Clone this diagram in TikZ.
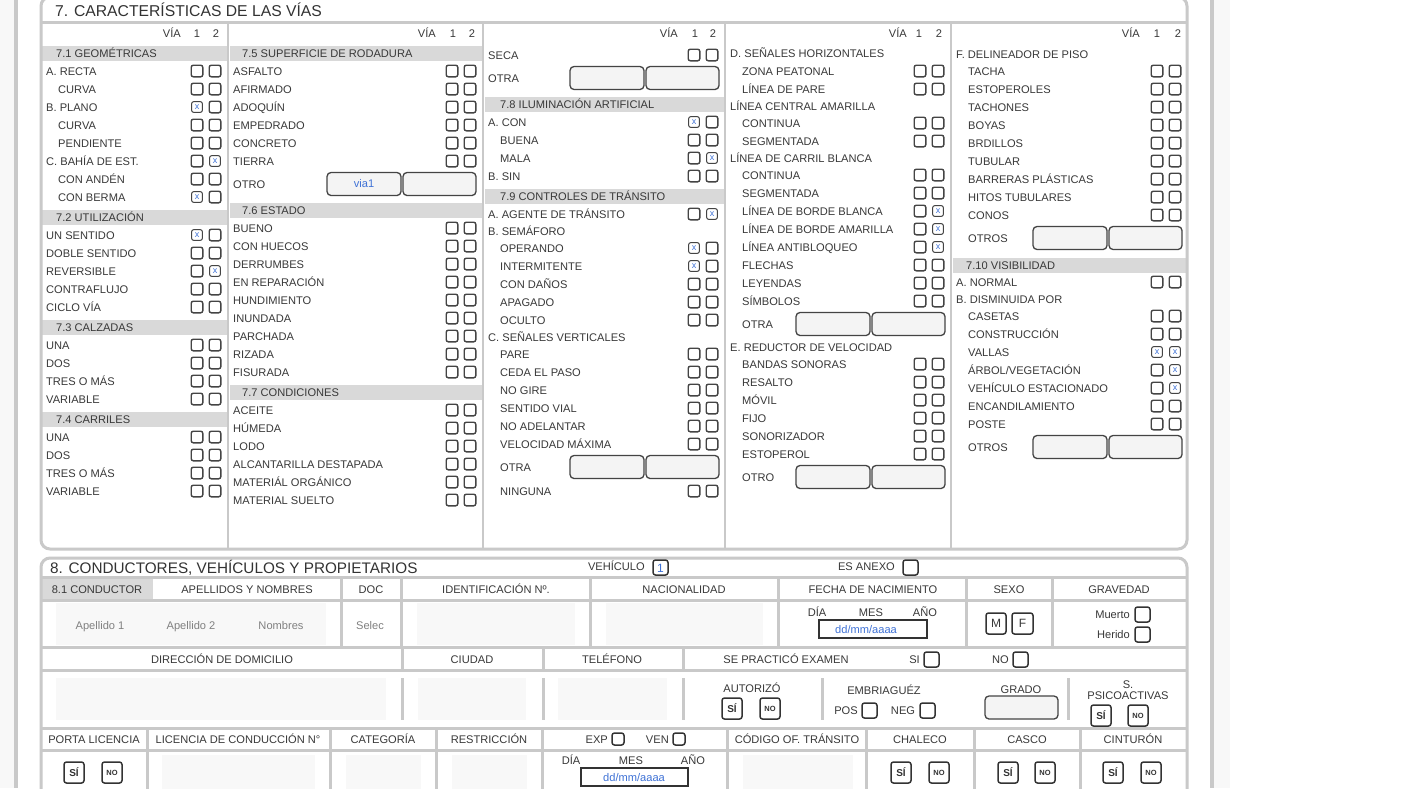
\documentclass[tikz,border=0pt]{standalone}
\usepackage{fontspec}
\setmainfont{Liberation Sans}
\definecolor{bord}{HTML}{C9C9C9}
\definecolor{bandc}{HTML}{D9D9D9}
\definecolor{txt}{HTML}{383838}
\definecolor{bx}{HTML}{444444}
\definecolor{bx2}{HTML}{333333}
\definecolor{blu}{HTML}{3F72D6}
\definecolor{fl}{HTML}{F4F4F4}
\definecolor{inp}{HTML}{F8F8F8}
\definecolor{side}{HTML}{F8F8F8}
\definecolor{gtx}{HTML}{808080}
\newcommand\fs{\fontsize{11.1}{13}\selectfont}
\tikzset{
  lbl/.style={anchor=base west,inner sep=0pt,text=txt,font=\fs},
  ctr/.style={anchor=base,inner sep=0pt,text=txt,font=\fs},
  rgt/.style={anchor=base east,inner sep=0pt,text=txt,font=\fs},
  cbx/.style={draw=bx,line width=1.4pt,rounded corners=2.2pt,minimum size=11.6pt,inner sep=0pt,fill=white},
  chk/.style={line width=1pt,minimum size=10.8pt,text=blu,font=\fontsize{9}{9}\selectfont},
  fldst/.style={draw=bx,line width=1.3pt,rounded corners=4pt,fill=fl},
  hl/.style={draw=bord,line width=3pt},
  btn/.style={draw=bx2,line width=1.5pt,rounded corners=2.5pt,fill=white},
  sq/.style={draw=bx2,line width=1.5pt,rounded corners=2.5pt,fill=white},
}
\newcommand\bx[3]{\ifnum#3=1 \node[cbx,chk] at (#1,#2) {x};\else \node[cbx] at (#1,#2) {};\fi}
\newcommand\rw[5]{\node[lbl] at (#1,#2+4) {#3};\bx{\cA}{#2}{#4}\bx{\cB}{#2}{#5}}
\newcommand\lb[3]{\node[lbl] at (#1,#2+4) {#3};}
\newcommand\band[5]{\fill[bandc] (#1,#3-7.5) rectangle (#2,#3+7.5);\node[lbl] at (#4,#3+4) {#5};}
\newcommand\fpair[2]{\draw[fldst] (#1,#2-11.5) rectangle (#1+74,#2+11.5);\draw[fldst] (#1+76,#2-11.5) rectangle (#1+149,#2+11.5);}
\newcommand\vhead[4]{\node[rgt] at (#1,37) {VÍA};\node[ctr] at (#2,37) {1};\node[ctr] at (#3,37) {2};}
\newcommand\btnsi[2]{\draw[btn] (#1,#2) rectangle (#1+20,#2+21);\node[font=\bfseries\fontsize{10}{10}\selectfont,text=bx2,inner sep=0pt] at (#1+10,#2+10.5) {SÍ};}
\newcommand\btnno[2]{\draw[btn] (#1,#2) rectangle (#1+20,#2+21);\node[font=\bfseries\fontsize{7.5}{8}\selectfont,text=bx2,inner sep=0pt] at (#1+10,#2+10.5) {NO};}
\newcommand\sqbox[2]{\draw[sq] (#1,#2) rectangle (#1+15,#2+15);}
\begin{document}
\begin{tikzpicture}[x=1pt,y=-1pt]
\useasboundingbox (0,0) rectangle (1423,788);
\fill[white] (0,0) rectangle (1423,788);
% side strips
\fill[side] (0,0) rectangle (14,788);
\fill[bord] (14,0) rectangle (17.5,788);
\fill[bord] (1210,0) rectangle (1213.5,788);
\fill[side] (1213.5,0) rectangle (1230,788);

% ================= SECTION 7 =================
\band{42}{227}{53.5}{56}{7.1 GEOMÉTRICAS}
\band{42}{227}{217.5}{56}{7.2 UTILIZACIÓN}
\band{42}{227}{327.5}{56}{7.3 CALZADAS}
\band{42}{227}{419.5}{56}{7.4 CARRILES}
\band{229.5}{482}{53.5}{242}{7.5 SUPERFICIE DE RODADURA}
\band{229.5}{482}{210.5}{242}{7.6 ESTADO}
\band{229.5}{482}{392.5}{242}{7.7 CONDICIONES}
\band{484.5}{724}{104.5}{500}{7.8 ILUMINACIÓN ARTIFICIAL}
\band{484.5}{724}{196.5}{500}{7.9 CONTROLES DE TRÁNSITO}
\band{952.5}{1186}{265}{966}{7.10 VISIBILIDAD}

\draw[draw=bord,line width=3pt,rounded corners=9pt] (41,-3) rectangle (1187,549);
\draw[hl] (41,22) -- (1187,22);
\foreach \xx in {228,483,725,951} \draw[draw=bord,line width=2.5pt] (\xx,22) -- (\xx,549);
\node[anchor=base west,inner sep=0pt,text=bx2,font=\fontsize{15.7}{17}\selectfont] (t7) at (55,16.5) {7. CARACTERÍSTICAS DE LAS VÍAS};

% column 1
\vhead{181}{197}{216}{}
\def\cA{197}\def\cB{215}
\rw{46}{71}{A. RECTA}{0}{0}
\rw{58}{89}{CURVA}{0}{0}
\rw{46}{107}{B. PLANO}{1}{0}
\rw{58}{125}{CURVA}{0}{0}
\rw{58}{143}{PENDIENTE}{0}{0}
\rw{46}{161}{C. BAHÍA DE EST.}{0}{1}
\rw{58}{179}{CON ANDÉN}{0}{0}
\rw{58}{197}{CON BERMA}{1}{0}
\rw{46}{235}{UN SENTIDO}{1}{0}
\rw{46}{253}{DOBLE SENTIDO}{0}{0}
\rw{46}{271}{REVERSIBLE}{0}{1}
\rw{46}{289}{CONTRAFLUJO}{0}{0}
\rw{46}{307}{CICLO VÍA}{0}{0}
\rw{46}{345}{UNA}{0}{0}
\rw{46}{363}{DOS}{0}{0}
\rw{46}{381}{TRES O MÁS}{0}{0}
\rw{46}{399}{VARIABLE}{0}{0}
\rw{46}{437}{UNA}{0}{0}
\rw{46}{455}{DOS}{0}{0}
\rw{46}{473}{TRES O MÁS}{0}{0}
\rw{46}{491}{VARIABLE}{0}{0}

% column 2
\vhead{436}{453}{472}{}
\def\cA{452}\def\cB{470}
\rw{233}{71}{ASFALTO}{0}{0}
\rw{233}{89}{AFIRMADO}{0}{0}
\rw{233}{107}{ADOQUÍN}{0}{0}
\rw{233}{125}{EMPEDRADO}{0}{0}
\rw{233}{143}{CONCRETO}{0}{0}
\rw{233}{161}{TIERRA}{0}{0}
\lb{233}{184}{OTRO}
\fpair{327}{184}
\node[inner sep=0pt,text=blu,font=\fs] (via) at (364,184) {via1};
\rw{233}{228}{BUENO}{0}{0}
\rw{233}{246}{CON HUECOS}{0}{0}
\rw{233}{264}{DERRUMBES}{0}{0}
\rw{233}{282}{EN REPARACIÓN}{0}{0}
\rw{233}{300}{HUNDIMIENTO}{0}{0}
\rw{233}{318}{INUNDADA}{0}{0}
\rw{233}{336}{PARCHADA}{0}{0}
\rw{233}{354}{RIZADA}{0}{0}
\rw{233}{372}{FISURADA}{0}{0}
\rw{233}{410}{ACEITE}{0}{0}
\rw{233}{428}{HÚMEDA}{0}{0}
\rw{233}{446}{LODO}{0}{0}
\rw{233}{464}{ALCANTARILLA DESTAPADA}{0}{0}
\rw{233}{482}{MATERIÁL ORGÁNICO}{0}{0}
\rw{233}{500}{MATERIAL SUELTO}{0}{0}

% column 3
\vhead{678}{695}{713}{}
\def\cA{694}\def\cB{712}
\rw{488}{55}{SECA}{0}{0}
\lb{488}{78}{OTRA}
\fpair{570}{78}
\rw{488}{122}{A. CON}{1}{0}
\rw{500}{140}{BUENA}{0}{0}
\rw{500}{158}{MALA}{0}{1}
\rw{488}{176}{B. SIN}{0}{0}
\rw{488}{214}{A. AGENTE DE TRÁNSITO}{0}{1}
\lb{488}{231}{B. SEMÁFORO}
\rw{500}{248}{OPERANDO}{1}{0}
\rw{500}{266}{INTERMITENTE}{1}{0}
\rw{500}{284}{CON DAÑOS}{0}{0}
\rw{500}{302}{APAGADO}{0}{0}
\rw{500}{320}{OCULTO}{0}{0}
\lb{488}{337}{C. SEÑALES VERTICALES}
\rw{500}{354}{PARE}{0}{0}
\rw{500}{372}{CEDA EL PASO}{0}{0}
\rw{500}{390}{NO GIRE}{0}{0}
\rw{500}{408}{SENTIDO VIAL}{0}{0}
\rw{500}{426}{NO ADELANTAR}{0}{0}
\rw{500}{444}{VELOCIDAD MÁXIMA}{0}{0}
\lb{500}{467}{OTRA}
\fpair{570}{467}
\rw{500}{491}{NINGUNA}{0}{0}

% column 4
\vhead{907}{919}{939}{}
\def\cA{920}\def\cB{938}
\lb{730}{53}{D. SEÑALES HORIZONTALES}
\rw{742}{71}{ZONA PEATONAL}{0}{0}
\rw{742}{89}{LÍNEA DE PARE}{0}{0}
\lb{730}{106}{LÍNEA CENTRAL AMARILLA}
\rw{742}{123}{CONTINUA}{0}{0}
\rw{742}{141}{SEGMENTADA}{0}{0}
\lb{730}{158}{LÍNEA DE CARRIL BLANCA}
\rw{742}{175}{CONTINUA}{0}{0}
\rw{742}{193}{SEGMENTADA}{0}{0}
\rw{742}{211}{LÍNEA DE BORDE BLANCA}{0}{1}
\rw{742}{229}{LÍNEA DE BORDE AMARILLA}{0}{1}
\rw{742}{247}{LÍNEA ANTIBLOQUEO}{0}{1}
\rw{742}{265}{FLECHAS}{0}{0}
\rw{742}{283}{LEYENDAS}{0}{0}
\rw{742}{301}{SÍMBOLOS}{0}{0}
\lb{742}{324}{OTRA}
\fpair{796}{324}
\lb{730}{347}{E. REDUCTOR DE VELOCIDAD}
\rw{742}{364}{BANDAS SONORAS}{0}{0}
\rw{742}{382}{RESALTO}{0}{0}
\rw{742}{400}{MÓVIL}{0}{0}
\rw{742}{418}{FIJO}{0}{0}
\rw{742}{436}{SONORIZADOR}{0}{0}
\rw{742}{454}{ESTOPEROL}{0}{0}
\lb{742}{477}{OTRO}
\fpair{796}{477}

% column 5
\vhead{1140}{1157}{1178}{}
\def\cA{1157}\def\cB{1175}
\lb{956}{54}{F. DELINEADOR DE PISO}
\rw{968}{71}{TACHA}{0}{0}
\rw{968}{89}{ESTOPEROLES}{0}{0}
\rw{968}{107}{TACHONES}{0}{0}
\rw{968}{125}{BOYAS}{0}{0}
\rw{968}{143}{BRDILLOS}{0}{0}
\rw{968}{161}{TUBULAR}{0}{0}
\rw{968}{179}{BARRERAS PLÁSTICAS}{0}{0}
\rw{968}{197}{HITOS TUBULARES}{0}{0}
\rw{968}{215}{CONOS}{0}{0}
\lb{968}{238}{OTROS}
\fpair{1033}{238}
\rw{956}{282}{A. NORMAL}{0}{0}
\lb{956}{299}{B. DISMINUIDA POR}
\rw{968}{316}{CASETAS}{0}{0}
\rw{968}{334}{CONSTRUCCIÓN}{0}{0}
\rw{968}{352}{VALLAS}{1}{1}
\rw{968}{370}{ÁRBOL/VEGETACIÓN}{0}{1}
\rw{968}{388}{VEHÍCULO ESTACIONADO}{0}{1}
\rw{968}{406}{ENCANDILAMIENTO}{0}{0}
\rw{968}{424}{POSTE}{0}{0}
\lb{968}{447}{OTROS}
\fpair{1033}{447}

% ================= SECTION 8 =================
\fill[bandc] (42,578.5) rectangle (153,598.5);
\fill[inp] (56,603) rectangle (326,645);
\fill[inp] (417,603) rectangle (575,645);
\fill[inp] (606,603) rectangle (763,645);
\fill[inp] (56,678) rectangle (386,720);
\fill[inp] (418,678) rectangle (526,720);
\fill[inp] (558,678) rectangle (667,720);
\fill[inp] (162,755) rectangle (315,790);
\fill[inp] (346,755) rectangle (421,790);
\fill[inp] (452,755) rectangle (527,790);
\fill[inp] (743,755) rectangle (853,790);

\draw[draw=bord,line width=3pt,rounded corners=9pt] (41,558) rectangle (1187,830);
\foreach \yy in {577,600,647,670,728,750} \draw[hl] (41,\yy) -- (1187,\yy);
\foreach \xx in {341,401,590,778,966,1052} \draw[hl] (\xx,577) -- (\xx,647);
\foreach \xx in {402,543,683} \draw[hl] (\xx,647) -- (\xx,670);
\foreach \xx in {402,543,683,822,1068} \draw[hl] (\xx,678) -- (\xx,720);
\foreach \xx in {147,330,436,542,727,866,974,1080} \draw[hl] (\xx,728) -- (\xx,790);

\node[anchor=base west,inner sep=0pt,text=bx2,font=\fontsize{15.3}{17}\selectfont] (t8) at (50,573) {8. CONDUCTORES, VEHÍCULOS Y PROPIETARIOS};
\node[rgt] at (645,570) {VEHÍCULO};
\draw[sq] (653,560) rectangle (668,575);
\node[inner sep=0pt,text=blu,font=\fontsize{12}{12}\selectfont] at (660.5,568.5) {1};
\node[rgt] at (895,570) {ES ANEXO};
\sqbox{903}{560}

% row 1
\foreach \xx/\tt in {97/8.1 CONDUCTOR,247/APELLIDOS Y NOMBRES,371/DOC,496/IDENTIFICACIÓN Nº.,684/NACIONALIDAD,873/FECHA DE NACIMIENTO,1009/SEXO,1119/GRAVEDAD}
  \node[ctr] at (\xx,593) {\tt};
% row 2
\foreach \xx/\tt in {100/Apellido 1,191/Apellido 2,281/Nombres}
  \node[ctr,text=gtx] at (\xx,629) {\tt};
\node[ctr,text=gtx] at (370,629) {Selec};
\node[ctr] at (817,616) {DÍA};
\node[ctr] at (871,616) {MES};
\node[ctr] at (925,616) {AÑO};
\draw[draw=bx2,line width=1.5pt] (819,620) rectangle (927,638);
\node[inner sep=0pt,text=blu,font=\fs] at (866,629.5) {dd/mm/aaaa};
\draw[sq] (986,613) rectangle (1006,634);
\node[inner sep=0pt,text=txt,font=\fontsize{12}{12}\selectfont] at (996,623.5) {M};
\draw[sq] (1012,613) rectangle (1033,634);
\node[inner sep=0pt,text=txt,font=\fontsize{12}{12}\selectfont] at (1022.5,623.5) {F};
\node[rgt] at (1130,618) {Muerto};
\sqbox{1135}{607}
\node[rgt] at (1130,638) {Herido};
\sqbox{1135}{627}
% row 3
\foreach \xx/\tt in {222/DIRECCIÓN DE DOMICILIO,472/CIUDAD,612/TELÉFONO,786/SE PRACTICÓ EXAMEN}
  \node[ctr] at (\xx,663) {\tt};
\node[rgt] at (920,663) {SI};
\sqbox{924}{652}
\node[rgt] at (1009,663) {NO};
\sqbox{1013}{652}
% row 4
\node[ctr] at (752,692) {AUTORIZÓ};
\btnsi{722}{698}
\btnno{760}{698}
\node[ctr] at (884,694) {EMBRIAGUÉZ};
\node[ctr] at (846,714) {POS};
\sqbox{862}{703}
\node[ctr] at (903,714) {NEG};
\sqbox{920}{703}
\node[ctr] at (1021,693) {GRADO};
\draw[fldst] (985,696) rectangle (1058,719);
\node[ctr] at (1128,688) {S.};
\node[ctr] at (1128,699) {PSICOACTIVAS};
\btnsi{1091}{705}
\btnno{1128}{705}
% row 5
\foreach \xx/\tt in {94/PORTA LICENCIA,238/LICENCIA DE CONDUCCIÓN N°,383/CATEGORÍA,489/RESTRICCIÓN,797/CÓDIGO OF. TRÁNSITO,920/CHALECO,1027/CASCO,1133/CINTURÓN}
  \node[ctr] at (\xx,743) {\tt};
\node[rgt] at (608,743) {EXP};
\draw[sq] (612,733) rectangle (624,745);
\node[rgt] at (669,743) {VEN};
\draw[sq] (673,733) rectangle (685,745);
% row 6
\btnsi{64}{762}
\btnno{102}{762}
\node[ctr] at (571,764) {DÍA};
\node[ctr] at (631,764) {MES};
\node[ctr] at (693,764) {AÑO};
\draw[draw=bx2,line width=1.5pt] (581,768) rectangle (688,786);
\node[inner sep=0pt,text=blu,font=\fs] at (634,777.5) {dd/mm/aaaa};
\btnsi{891}{762}
\btnno{929}{762}
\btnsi{998}{762}
\btnno{1035}{762}
\btnsi{1103}{762}
\btnno{1141}{762}
\end{tikzpicture}
\end{document}
